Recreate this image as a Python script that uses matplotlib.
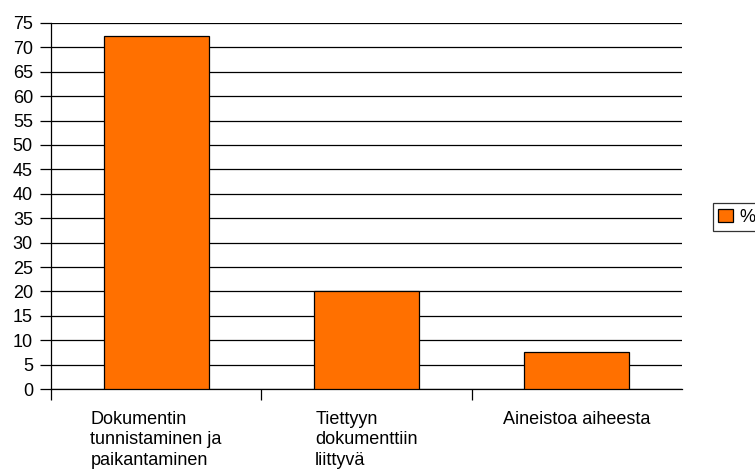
import numpy as np
from matplotlib import pyplot as plt

# tiedontarpeen tyyppi ja osuus (%)
luokat = ["Dokumentin\ntunnistaminen ja\npaikantaminen",
          "Tiettyyn\ndokumenttiin\nliittyvä",
          "Aineistoa aiheesta"]
osuudet = [72.3, 20.1, 7.6]
y_tikit = list(range(0, 80, 5))

plt.rcParams['font.family'] = ['Liberation Sans', 'DejaVu Sans']
koko = 13

fig = plt.figure(figsize=(7.55, 4.72), dpi=100)
ax = fig.add_axes([0.0675, 0.1758, 0.8358, 0.7755])

x = np.arange(len(luokat))
ax.bar(x, osuudet, width=0.5, color='#ff7000', edgecolor='black',
       linewidth=0.9, label='%', zorder=3)

ax.set_xlim(-0.5, 2.5)
ax.set_ylim(0, 75)
ax.set_yticks(y_tikit)
ax.yaxis.grid(True, color='black', linewidth=0.9, zorder=0)
ax.set_axisbelow(True)

# jakoviivat luokkien välissä, nimet keskelle
ax.set_xticks([-0.5, 0.5, 1.5])
ax.set_xticklabels([])
ax.set_xticks(x, minor=True)
ax.set_xticklabels(luokat, minor=True, ha='center', multialignment='left',
                   linespacing=1.25)
ax.tick_params(axis='x', which='major', direction='out', length=8, width=0.9)
ax.tick_params(axis='x', which='minor', length=0, pad=16, labelsize=koko)
ax.tick_params(axis='y', direction='out', length=8, width=0.9, pad=5,
               labelsize=koko)

for s in ['top', 'right']:
    ax.spines[s].set_visible(False)
ax.spines['left'].set_linewidth(0.9)
ax.spines['bottom'].set_linewidth(0.9)

leg = fig.legend(loc='center left', bbox_to_anchor=(0.944, 0.54),
                 fontsize=koko, frameon=True, fancybox=False,
                 handlelength=0.8, handleheight=0.8, handletextpad=0.35,
                 borderpad=0.3, borderaxespad=0)
leg.get_frame().set_edgecolor('black')
leg.get_frame().set_linewidth(0.9)

plt.savefig('out.png', dpi=100)
